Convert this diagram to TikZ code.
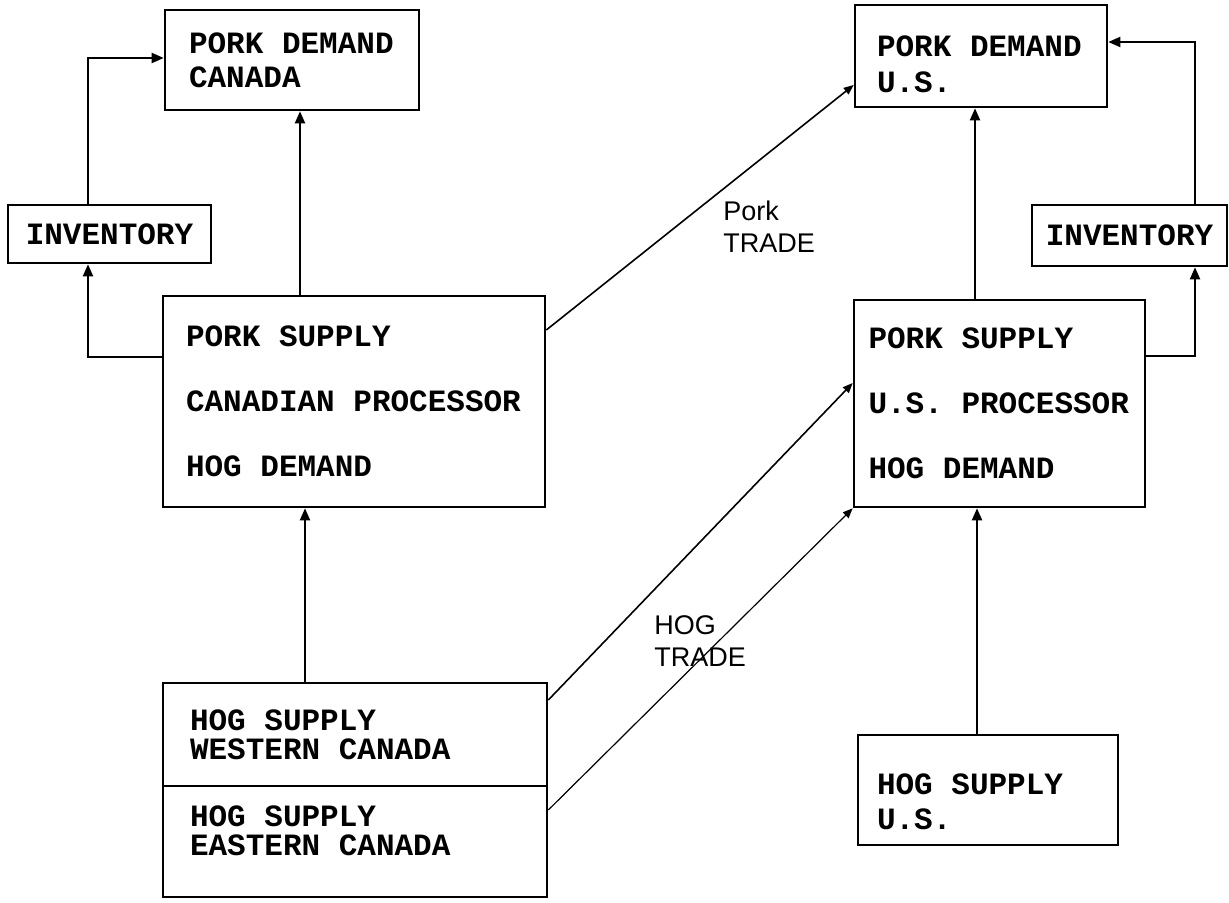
\documentclass[tikz,border=0pt]{standalone}
\usepackage{fontspec}
\setsansfont{Liberation Sans}
\setmonofont{Liberation Mono}
\usetikzlibrary{arrows.meta}

\begin{document}
\begin{tikzpicture}[
    x=0.5pt, y=-0.5pt,
    box/.style={draw, line width=1.3pt, inner sep=0pt, align=flush left,
                font=\ttfamily\bfseries\fontsize{15.5}{17}\selectfont,
                execute at begin node={\spaceskip=9.3pt\relax}},
    flow/.style={line width=1pt, -{Triangle[length=6pt,width=5pt]}},
    trade/.style={line width=0.8pt, -{Triangle[length=5pt,width=4pt]}},
    hand/.style={align=left, font=\sffamily\fontsize{13.5}{16}\selectfont},
  ]
  \useasboundingbox (0,0) rectangle (1229,903);
  % Canada side
  \node[box, minimum width=127pt, minimum height=50pt, text width=103pt] (pdc) at (292,60) {PORK DEMAND\\CANADA};
  \node[box, align=center, minimum width=101.5pt, minimum height=29pt] (invl) at (109.5,234) {INVENTORY};
  \node[box, minimum width=191pt, minimum height=105.5pt, text width=168pt] (psc) at (354,401.5)
    {PORK SUPPLY\\[15.5pt]CANADIAN PROCESSOR\\[15.5pt]HOG DEMAND};
  \node[box, minimum width=192pt, minimum height=51.5pt, text width=165pt] (hsw) at (355,734.5)
    {HOG SUPPLY\\[-2.5pt]WESTERN CANADA};
  \node[box, minimum width=192pt, minimum height=55.5pt, text width=165pt] (hse) at (355,841.5)
    {HOG SUPPLY\\[-2.5pt]EASTERN CANADA\\[-6pt]\mbox{}};
  % U.S. side
  \node[box, minimum width=126pt, minimum height=51pt, text width=104pt] (pdu) at (981,56)
    {\mbox{}\\[2pt]PORK DEMAND\\[1pt]U.S.};
  \node[box, align=center, minimum width=97.5pt, minimum height=30.5pt] (invr) at (1129.5,235.5) {INVENTORY};
  \node[box, minimum width=145.5pt, minimum height=103.5pt, text width=131pt] (psu) at (999.5,403.5)
    {PORK SUPPLY\\[15.5pt]U.S. PROCESSOR\\[15.5pt]HOG DEMAND};
  \node[box, minimum width=130pt, minimum height=55pt, text width=111pt] (hsu) at (988,790)
    {\mbox{}\\[5pt]HOG SUPPLY\\[0.5pt]U.S.};
  % flows inside each country
  \draw[flow] ([xshift=-27pt]psc.north) -- ([xshift=-27pt]psc.north |- pdc.south);
  \draw[flow] ([yshift=22.25pt]psc.west) -| ([xshift=-10.75pt]invl.south);
  \draw[flow] ([xshift=-10.75pt]invl.north) |- ([yshift=1pt]pdc.west);
  \draw[flow] ([xshift=-25pt]hsw.north) -- ([xshift=-25pt]hsw.north |- psc.south);
  \draw[flow] ([xshift=-12.25pt]psu.north) -- ([xshift=-12.25pt]psu.north |- pdu.south);
  \draw[flow] ([yshift=23.75pt]psu.east) -| ([xshift=32.75pt]invr.south);
  \draw[flow] ([xshift=32.75pt]invr.north) |- ([yshift=7pt]pdu.east);
  \draw[flow] ([xshift=-5.5pt]hsu.north) -- ([xshift=-5.5pt]hsu.north |- psu.south);
  % trade between the two
  \draw[trade] ([yshift=35.75pt]psc.east) -- ([yshift=-14.5pt]pdu.west);
  \draw[trade] ([yshift=17.25pt]hsw.east) -- ([yshift=10.25pt]psu.west);
  \draw[trade, line width=0.6pt] ([yshift=15.75pt]hse.east) -- (psu.south west);
  \node[hand] (porktrade) at (769,227) {Pork\\TRADE};
  \node[hand] (hogtrade) at (700,641) {HOG\\TRADE};
\end{tikzpicture}
\end{document}
